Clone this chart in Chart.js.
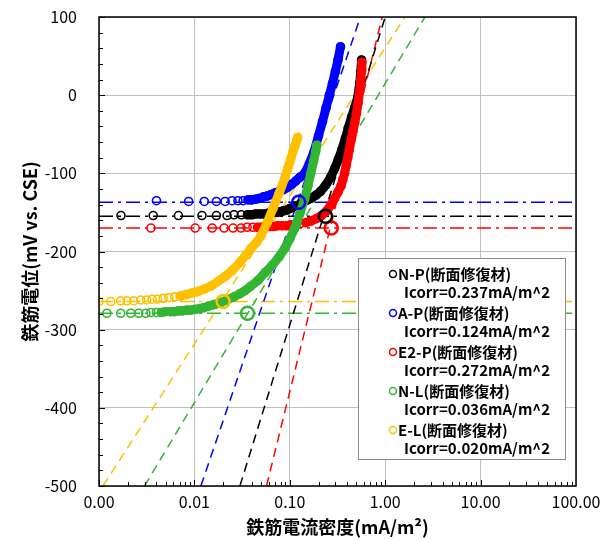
<!DOCTYPE html>
<html>
<head>
<meta charset="utf-8">
<script src="https://cdn.jsdelivr.net/npm/chart.js@4.4.1/dist/chart.umd.min.js"></script>
<style>
  html, body { margin: 0; padding: 0; background: #fff; }
  #wrap { width: 608px; height: 540px; }
</style>
</head>
<body>
<div id="wrap"><canvas id="chart" width="608" height="540"></canvas></div>
<script>
const FONT = '"Noto Sans CJK JP", "Noto Sans", sans-serif';

const seriesNames = ["N-P(断面修復材)", "A-P(断面修復材)", "E2-P(断面修復材)", "N-L(断面修復材)", "E-L(断面修復材)"];
const seriesColors = ["#000000", "#0000ff", "#ff0000", "#33b533", "#ffc000"];
const icorr = [0.237, 0.124, 0.272, 0.036, 0.020];
const ecorr = [-155, -137, -170, -279, -264];

// dashed tafel lines, current at the bottom (-500) and top (100) of the plot
const tafelE = [-500, 100];
const tafelLowI = [0.030, 0.0117, 0.057, 0.0030, 0.0011];
const tafelHighI = [1.0, 0.55, 0.93, 2.61, 1.61];

const xRange = [0.001, 100];
const yRange = [-500, 100];
const xTickValues = [0.001, 0.01, 0.1, 1, 10, 100];
const xTickLabels = ["0.00", "0.01", "0.10", "1.00", "10.00", "100.00"];

// N-P
const npI = [0.0017, 0.0037, 0.0068, 0.012, 0.017, 0.022, 0.026, 0.031, 0.036, 0.040, 0.044, 0.049, 0.054, 0.059, 0.064, 0.069, 0.074, 0.080, 0.086, 0.093, 0.100, 0.115, 0.130, 0.148, 0.166, 0.188, 0.210, 0.238, 0.268, 0.295, 0.323, 0.350, 0.383, 0.410, 0.444, 0.478, 0.515, 0.540, 0.555, 0.565];
const npE = [-154, -154, -154, -154, -154, -154, -153, -153, -153, -153, -152, -152, -152, -151, -151, -150, -150, -149, -148, -147, -145, -142, -139, -135, -132, -128, -123, -115, -105, -94, -82, -70, -55, -42, -28, -16, -3, 15, 30, 45];
// A-P
const apI = [0.0040, 0.0087, 0.0127, 0.0170, 0.0210, 0.0248, 0.0286, 0.0324, 0.0365, 0.0402, 0.0442, 0.0487, 0.053, 0.058, 0.064, 0.070, 0.077, 0.085, 0.095, 0.105, 0.115, 0.128, 0.143, 0.160, 0.180, 0.200, 0.220, 0.240, 0.260, 0.280, 0.300, 0.320, 0.340];
const apE = [-135, -136, -136, -136, -136, -135, -135, -135, -134, -134, -133, -132, -130, -129, -127, -125, -123, -121, -118, -114, -110, -105, -100, -88, -72, -52, -34, -16, 0, 15, 30, 45, 62];
// E2-P
const e2I = [0.0035, 0.0102, 0.0154, 0.0205, 0.0254, 0.0309, 0.0357, 0.041, 0.046, 0.051, 0.056, 0.062, 0.068, 0.075, 0.083, 0.092, 0.102, 0.115, 0.130, 0.148, 0.166, 0.190, 0.215, 0.240, 0.268, 0.295, 0.320, 0.345, 0.360, 0.375, 0.390, 0.405, 0.420, 0.440, 0.460, 0.480, 0.500, 0.520, 0.540, 0.555, 0.565, 0.570];
const e2E = [-170, -170, -170, -170, -170, -170, -169, -169, -169, -169, -168, -168, -168, -167, -167, -167, -166, -165, -164, -163, -161, -158, -154, -149, -141, -132, -124, -116, -108, -100, -90, -80, -70, -57, -46, -35, -23, -10, 5, 20, 32, 42];
// N-L
const nlI = [0.00121, 0.00169, 0.00215, 0.00261, 0.0031, 0.0035, 0.0040, 0.0045, 0.0050, 0.0056, 0.0062, 0.0068, 0.0075, 0.0083, 0.0092, 0.0102, 0.0113, 0.0125, 0.0140, 0.0160, 0.0191, 0.0220, 0.0260, 0.0300, 0.0340, 0.0383, 0.0464, 0.0550, 0.0650, 0.0770, 0.0887, 0.100, 0.1127, 0.127, 0.143, 0.155, 0.166, 0.178, 0.187, 0.192];
const nlE = [-279, -279, -279, -279, -279, -278, -278, -278, -277, -277, -277, -276, -276, -275, -275, -274, -273, -272, -270, -268, -265, -262, -258, -254, -250, -245, -237, -227, -218, -207, -196, -184, -170, -152, -133, -116, -100, -84, -72, -64];
// E-L
const elI = [0.00100, 0.00133, 0.00169, 0.00196, 0.00231, 0.00274, 0.00316, 0.0036, 0.0041, 0.0047, 0.0054, 0.0062, 0.0071, 0.0082, 0.0095, 0.0110, 0.0128, 0.0150, 0.0178, 0.0210, 0.0250, 0.0300, 0.0350, 0.0392, 0.0450, 0.0499, 0.0580, 0.0665, 0.0770, 0.0887, 0.0950, 0.102, 0.108, 0.113, 0.118, 0.121];
const elE = [-264, -264, -263, -263, -263, -262, -262, -261, -261, -260, -259, -258, -257, -255, -253, -251, -248, -244, -238, -232, -224, -214, -204, -196, -188, -180, -163, -145, -126, -106, -94, -82, -72, -65, -58, -54];

const curves = [[npI, npE], [apI, apE], [e2I, e2E], [nlI, nlE], [elI, elE]];

// fill the gap between circles with a thick line only where the points crowd together
const isDense = (c) => {
  const dx = Math.abs(c.p1.x - c.p0.x);
  const dy = Math.abs(c.p1.y - c.p0.y);
  return dx < 4.5 || dy > 1.2;
};

const datasets = [];

curves.forEach(([xs, ys], k) => {
  const color = seriesColors[k];
  // measured curve
  datasets.push({
    label: seriesNames[k],
    data: xs.map((x, j) => ({ x, y: ys[j] })),
    showLine: true,
    borderColor: color,
    borderWidth: 9,
    borderCapStyle: "round",
    borderJoinStyle: "round",
    segment: { borderColor: (c) => (isDense(c) ? color : "rgba(0,0,0,0)") },
    pointRadius: 4,
    pointBorderWidth: 1.6,
    pointBorderColor: color,
    pointBackgroundColor: "rgba(255,255,255,0)",
    order: 10 - k,
  });
  // tafel line
  datasets.push({
    label: "tafel",
    data: [
      { x: tafelLowI[k], y: tafelE[0] },
      { x: tafelHighI[k], y: tafelE[1] },
    ],
    showLine: true,
    borderColor: color,
    borderWidth: 1.5,
    borderDash: [9, 6],
    pointRadius: 0,
    order: 20,
  });
  // corrosion potential
  datasets.push({
    label: "ecorr",
    data: [
      { x: xRange[0], y: ecorr[k] },
      { x: xRange[1], y: ecorr[k] },
    ],
    showLine: true,
    borderColor: color,
    borderWidth: 1.5,
    borderDash: [14, 5, 3, 5],
    pointRadius: 0,
    order: 30,
  });
  // corrosion current marker
  datasets.push({
    label: "icorr",
    data: [{ x: icorr[k], y: ecorr[k] }],
    showLine: false,
    pointRadius: 6.5,
    pointBorderWidth: 2.5,
    pointBorderColor: color,
    pointBackgroundColor: "rgba(255,255,255,0)",
    order: 1,
  });
});

const decor = {
  id: "decor",
  afterDatasetsDraw(chart) {
    const { ctx, chartArea: a, scales } = chart;
    const x = scales.x;
    const y = scales.y;
    ctx.save();
    ctx.strokeStyle = "#000";
    ctx.lineWidth = 1;

    // inner tick marks
    ctx.beginPath();
    for (let d = 0; d < 5; d++) {
      const base = xTickValues[d];
      for (let m = 1; m < 10; m++) {
        const px = Math.round(x.getPixelForValue(base * m)) + 0.5;
        const len = m === 1 ? 6 : 4;
        ctx.moveTo(px, a.bottom);
        ctx.lineTo(px, a.bottom - len);
      }
    }
    for (let v = yRange[0]; v <= yRange[1]; v += 20) {
      const py = Math.round(y.getPixelForValue(v)) + 0.5;
      const len = v % 100 === 0 ? 6 : 4;
      ctx.moveTo(a.left, py);
      ctx.lineTo(a.left + len, py);
    }
    ctx.stroke();

    // frame
    ctx.lineWidth = 1.5;
    ctx.strokeRect(a.left, a.top, a.right - a.left, a.bottom - a.top);

    // legend
    const bx = a.right - 218;
    const by = a.top + 241;
    const bw = 207;
    const bh = 201;
    ctx.fillStyle = "#fff";
    ctx.fillRect(bx, by, bw, bh);
    ctx.strokeStyle = "#8c8c8c";
    ctx.lineWidth = 1;
    ctx.strokeRect(bx + 0.5, by + 0.5, bw, bh);

    ctx.textBaseline = "middle";
    ctx.textAlign = "left";
    ctx.font = "bold 15px " + FONT;
    seriesNames.forEach((name, k) => {
      const ly = by + 16 + k * 39;
      ctx.strokeStyle = seriesColors[k];
      ctx.lineWidth = 1.5;
      ctx.beginPath();
      ctx.arc(bx + 35, ly, 3.5, 0, Math.PI * 2);
      ctx.stroke();
      ctx.fillStyle = "#000";
      ctx.fillText(name, bx + 40, ly);
      ctx.fillText("Icorr=" + icorr[k].toFixed(3) + "mA/m^2", bx + 46, ly + 18);
    });
    ctx.restore();
  },
};

new Chart(document.getElementById("chart"), {
  type: "scatter",
  data: { datasets },
  plugins: [decor],
  options: {
    responsive: false,
    animation: false,
    devicePixelRatio: 1,
    layout: { padding: { left: 8, top: 17, right: 32, bottom: 0 } },
    plugins: {
      legend: { display: false },
      tooltip: { enabled: false },
    },
    scales: {
      x: {
        type: "logarithmic",
        min: xRange[0],
        max: xRange[1],
        afterBuildTicks: (s) => {
          s.ticks = xTickValues.map((v) => ({ value: v }));
        },
        afterFit: (s) => {
          s.height = 54;
        },
        ticks: {
          callback: (v, i) => xTickLabels[i],
          autoSkip: false,
          maxRotation: 0,
          padding: 6,
          color: "#000",
          font: { family: FONT, size: 16 },
        },
        grid: { color: "#c0c0c0", drawTicks: false },
        border: { display: false },
        title: {
          display: true,
          text: "鉄筋電流密度(mA/m²)",
          color: "#000",
          font: { family: FONT, size: 18, weight: "bold" },
          padding: { top: 0, bottom: 2 },
        },
      },
      y: {
        min: yRange[0],
        max: yRange[1],
        afterFit: (s) => {
          s.width = 91;
          // the tick padding only pushes labels sideways here
          s.paddingTop = 10;
          s.paddingBottom = 10;
        },
        ticks: {
          stepSize: 100,
          padding: 22,
          color: "#000",
          font: { family: FONT, size: 16 },
        },
        grid: { color: "#c0c0c0", drawTicks: false },
        border: { display: false },
        title: {
          display: true,
          text: "鉄筋電位(mV vs. CSE)",
          color: "#000",
          font: { family: FONT, size: 18, weight: "bold" },
          padding: { top: 11, bottom: 0 },
        },
      },
    },
  },
});
</script>
</body>
</html>
